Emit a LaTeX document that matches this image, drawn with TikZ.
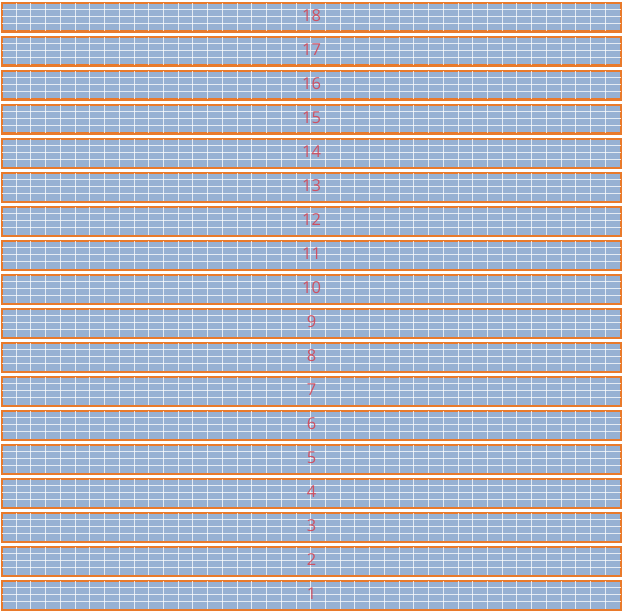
\documentclass[tikz,border=0pt]{standalone}
\usepackage{fontspec}
\setmainfont{Open Sans}
\usetikzlibrary{calc}
\definecolor{barfill}{HTML}{97B1D3}
\definecolor{barline}{HTML}{E97A2B}
\definecolor{numcol}{HTML}{D8404F}
\begin{document}
\begin{tikzpicture}[x=1bp,y=-1bp,
  barbox/.style={draw=barline,line width=1.6bp,fill=barfill,minimum width=618.5bp,minimum height=28bp,inner sep=0pt,anchor=north west,rectangle},
  gridline/.style={draw=white,draw opacity=0.75,line width=1bp},
  numlabel/.style={text=numcol,text opacity=0.85,font=\fontsize{16.5}{18}\selectfont}]
\useasboundingbox (0,0) rectangle (622,612);
\foreach \i in {1,...,18}{
  \pgfmathsetmacro{\ytop}{2.5+(18-\i)*34}
  \node[barbox] (b\i) at (1.5,\ytop) {};
  \begin{scope}
    \clip (b\i.north west) rectangle (b\i.south east);
    \foreach \k in {1,...,41}{
      \draw[gridline] ($(b\i.north west)+(\k*14.726,0)$) -- ($(b\i.south west)+(\k*14.726,0)$);
    }
    \foreach \r in {1,2,3}{
      \draw[gridline] ($(b\i.north west)+(0,\r*7)$) -- ($(b\i.north east)+(0,\r*7)$);
    }
  \end{scope}
  \draw[draw=barline,line width=1.6bp] (b\i.north west) rectangle (b\i.south east);
  \node[numlabel] (n\i) at ($(b\i.center)+(0,-1.5)$) {\i};
}
\end{tikzpicture}
\end{document}
